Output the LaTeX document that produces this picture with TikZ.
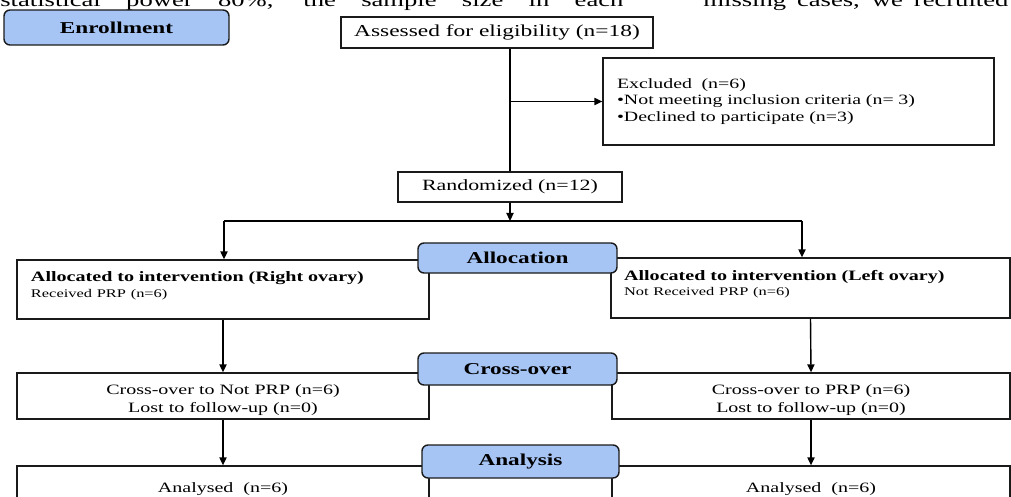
\documentclass[tikz,border=0pt]{standalone}
\usepackage{fontspec}
\setmainfont[FakeStretch=1.4]{Liberation Serif}
\usepackage{tikz}
\usetikzlibrary{positioning,arrows.meta}
\definecolor{phaseblue}{HTML}{A6C4F4}
\definecolor{edge}{HTML}{1A1A1A}
\tikzset{
  box/.style={rectangle, draw=edge, fill=white, line width=0.65pt, inner sep=0pt, align=center},
  phase/.style={rectangle, draw=edge, fill=phaseblue, rounded corners=3pt, line width=0.7pt,
                inner sep=0pt, font=\fontsize{8.3}{9}\selectfont\bfseries},
  arr/.style={-{Triangle[length=4pt, width=3.6pt]}, line width=0.7pt, draw=black},
  ln/.style={line width=0.7pt, draw=black},
}

\begin{document}
\begin{tikzpicture}[x=0.5pt, y=-0.5pt]
  \useasboundingbox (0,0) rectangle (1011,497);
  \clip (0,0) rectangle (1011,497);
  % page text above the chart
  \node[anchor=base west, inner sep=0pt, font=\fontsize{9.5}{11}\selectfont] (bodyL) at (0,7)
    {\makebox[311.5pt][s]{statistical power 80\%, the sample size in each}};
  \node[anchor=base west, inner sep=0pt, font=\fontsize{9.5}{11}\selectfont] (bodyR) at (703,7)
    {\makebox[152.5pt][s]{missing cases, we recruited}};

  % enrollment
  \node[box, minimum width=156pt, minimum height=15.5pt, font=\fontsize{8.36}{10}\selectfont] (assess) at (497,32.5)
    {Assessed for eligibility (n=18)};
  \node[box, minimum width=195.5pt, minimum height=43.5pt, text width=181.5pt, inner xsep=7pt, align=left,
        font=\fontsize{7.1}{8.3}\selectfont] (excl) at (798.5,101.5)
    {Excluded\ \ (n=6)\\\textbullet Not meeting inclusion criteria (n=\ 3)\\\textbullet Declined to participate (n=3)};
  \node[box, minimum width=112pt, minimum height=15pt, font=\fontsize{7.82}{9}\selectfont] (rand) at (510,187)
    {Randomized (n=12)};

  % allocation
  \node[box, minimum width=206pt, minimum height=29.5pt, text width=192pt, inner xsep=7pt, align=left,
        font=\fontsize{7.18}{7.6}\selectfont] (allocL) at (223,289.5)
    {\textbf{Allocated to intervention (Right ovary)}\\{\fontsize{5.86}{6.5}\selectfont Received PRP (n=6)}\rule[-5pt]{0pt}{5pt}};
  \node[box, minimum width=199.5pt, minimum height=30pt, text width=186.5pt, inner xsep=6.5pt, align=left,
        font=\fontsize{7.18}{7.6}\selectfont] (allocR) at (810.5,288)
    {\textbf{Allocated to intervention (Left ovary)}\\{\fontsize{5.86}{6.5}\selectfont Not Received PRP (n=6)}\rule[-5pt]{0pt}{5pt}};

  % cross-over
  \node[box, minimum width=206pt, minimum height=23pt, font=\fontsize{7.14}{8.8}\selectfont] (crossL) at (223,396)
    {\rule{0pt}{9pt}Cross-over to Not PRP (n=6)\\Lost to follow-up (n=0)};
  \node[box, minimum width=199pt, minimum height=23pt, font=\fontsize{7.14}{8.8}\selectfont] (crossR) at (811,396)
    {\rule{0pt}{9pt}Cross-over to PRP (n=6)\\Lost to follow-up (n=0)};

  % analysis
  \node[box, minimum width=206pt, minimum height=23pt, font=\fontsize{7.14}{8.8}\selectfont] (anaL) at (223,489)
    {Analysed\ \ (n=6)};
  \node[box, minimum width=199pt, minimum height=23pt, font=\fontsize{7.14}{8.8}\selectfont] (anaR) at (811,489)
    {Analysed\ \ (n=6)};

  % connectors
  \coordinate (split) at (510,221);
  \coordinate (splitL) at (224,221);
  \coordinate (splitR) at (802,221);
  \draw[ln] (assess.south -| rand.north) -- (rand.north);
  \draw[arr] (rand.north |- excl.west) -- (excl.west);
  \draw[arr] (rand.south) -- (split);
  \draw[ln] (splitL) -- (splitR);
  \draw[arr] (splitL) -- (splitL |- allocL.north);
  \draw[arr] (splitR) -- (splitR |- allocR.north);
  \draw[arr] (allocL.south) -- (crossL.north);
  \draw[arr] (allocR.south) -- (crossR.north);
  \draw[arr] (crossL.south) -- (anaL.north);
  \draw[arr] (crossR.south) -- (anaR.north);

  % phase labels
  \node[phase, minimum width=112.5pt, minimum height=17.5pt] (enroll) at (116.5,27.5) {Enrollment};
  \node[phase, minimum width=99.5pt, minimum height=15pt] (allocLab) at (517.5,258) {Allocation};
  \node[phase, minimum width=99.5pt, minimum height=16pt] (crossLab) at (517.5,369) {Cross-over};
  \node[phase, minimum width=98.5pt, minimum height=16.5pt] (anaLab) at (520.5,461.5) {Analysis};
\end{tikzpicture}
\end{document}
